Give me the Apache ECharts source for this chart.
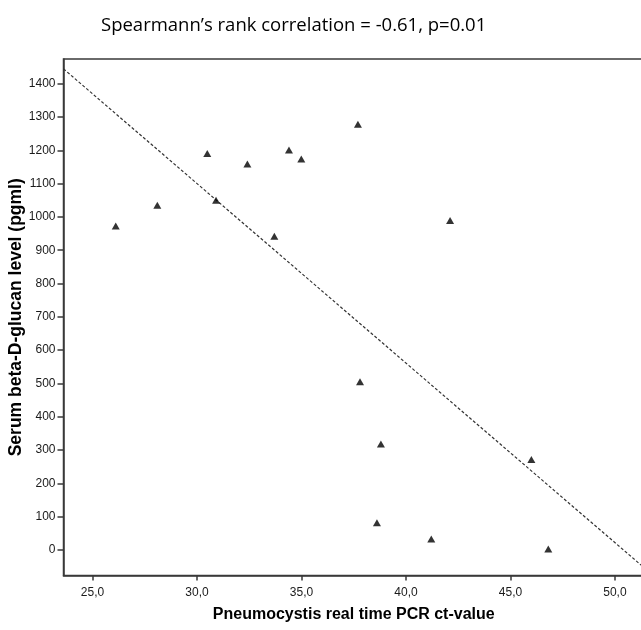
<!DOCTYPE html>
<html>
<head>
<meta charset="utf-8">
<script src="https://cdn.jsdelivr.net/npm/echarts@6/dist/echarts.min.js"></script>
<style>
html,body{margin:0;padding:0;background:#fff;}
#chart{width:641px;height:630px;}
</style>
</head>
<body>
<div id="chart"></div>
<script>
// Data
const ctValues = [26.11, 28.10, 30.49, 30.91, 32.41, 33.70, 34.40, 34.99, 37.70, 37.80, 38.61, 38.80, 41.21, 42.11, 46.00, 46.81];
const bdgValues = [973, 1035, 1190, 1050, 1159, 942, 1201, 1174, 1278, 505, 82, 318, 33, 989, 272, 3];
const xTicks = [25, 30, 35, 40, 45, 50];
const yTicks = [0, 100, 200, 300, 400, 500, 600, 700, 800, 900, 1000, 1100, 1200, 1300, 1400];
const xRange = [23.61, 51.39];
const yRange = [-76.6, 1474];
const fitIntercept = 2717;
const fitSlope = -53.9;
const titleText = 'Spearmann\u2019s rank correlation = -0.61, p=0.01';
const xName = 'Pneumocystis real time PCR ct-value';
const yName = 'Serum beta-D-glucan level (pgml)';

const points = ctValues.map((x, i) => [x, bdgValues[i]]);
const fitLine = xRange.map(x => [x, fitIntercept + fitSlope * x]);

const chart = echarts.init(document.getElementById('chart'), null, {renderer: 'canvas'});
const axisColor = '#3a3a3a';
chart.setOption({
  animation: false,
  backgroundColor: '#fff',
  title: {
    text: titleText,
    left: 96,
    top: 11,
    textStyle: {fontFamily: 'Open Sans', fontWeight: 'normal', fontSize: 18.5, color: '#000'}
  },
  grid: {
    left: 63.5, top: 59, right: -3, bottom: 54.5,
    containLabel: false,
    outerBoundsMode: 'none',
    show: true, borderColor: axisColor, borderWidth: 1.5, backgroundColor: '#fff'
  },
  xAxis: {
    type: 'value',
    min: xRange[0], max: xRange[1],
    splitLine: {show: false},
    axisLine: {show: true, onZero: false, lineStyle: {color: axisColor, width: 1.5}},
    axisTick: {show: true, length: 5, lineStyle: {color: axisColor, width: 1.5}, customValues: xTicks},
    axisLabel: {
      customValues: xTicks, margin: 11,
      formatter: v => v.toFixed(1).replace('.', ','),
      fontFamily: 'Liberation Sans', fontSize: 12, color: '#1a1a1a'
    },
    name: xName, nameLocation: 'middle', nameGap: 31, nameMoveOverlap: false,
    nameTextStyle: {fontFamily: 'Liberation Sans', fontWeight: 'bold', fontSize: 16, color: '#000'}
  },
  yAxis: {
    type: 'value',
    min: yRange[0], max: yRange[1],
    splitLine: {show: false},
    axisLine: {show: true, onZero: false, lineStyle: {color: axisColor, width: 1.5}},
    axisTick: {show: true, length: 6, lineStyle: {color: axisColor, width: 1.5}, customValues: yTicks},
    axisLabel: {
      customValues: yTicks, margin: 8,
      formatter: v => String(Math.round(v)),
      fontFamily: 'Liberation Sans', fontSize: 12, color: '#1a1a1a'
    },
    name: yName, nameLocation: 'middle', nameGap: 38, nameRotate: 90, nameMoveOverlap: false,
    nameTextStyle: {fontFamily: 'Liberation Sans', fontWeight: 'bold', fontSize: 17.5, color: '#000'}
  },
  series: [
    {
      type: 'line',
      data: fitLine,
      symbol: 'none',
      lineStyle: {color: '#333', width: 1.2, type: [3, 2]},
      z: 1
    },
    {
      type: 'scatter',
      data: points,
      symbol: 'triangle',
      symbolSize: [8, 7],
      itemStyle: {color: '#000'},
      z: 2
    }
  ]
});
</script>
</body>
</html>
